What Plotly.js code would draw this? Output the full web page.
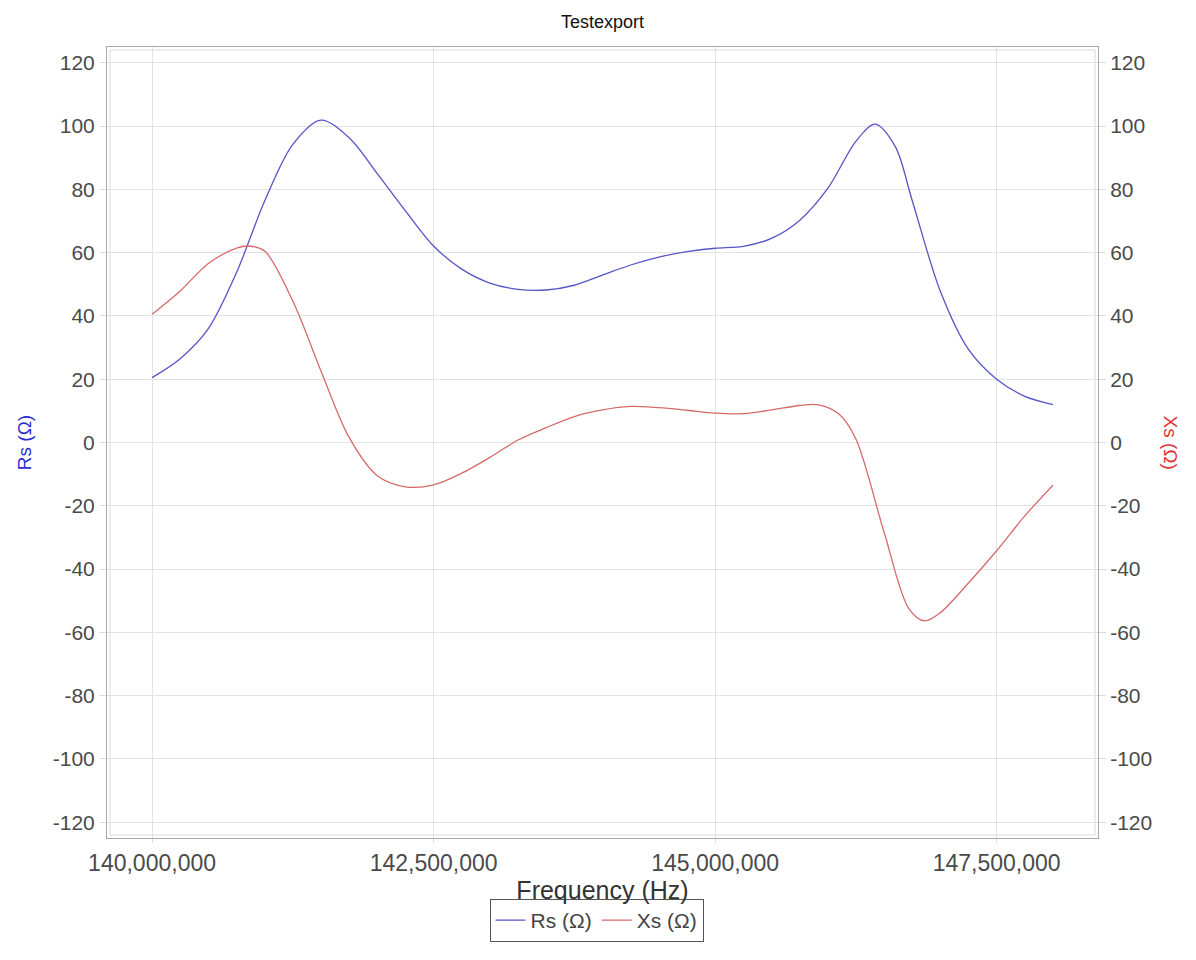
<!DOCTYPE html>
<html>
<head>
<meta charset="utf-8">
<script src="https://cdn.plot.ly/plotly-3.0.1.min.js"></script>
<style>html,body{margin:0;padding:0;background:#fff;}#chart{width:1196px;height:960px;}</style>
</head>
<body>
<div id="chart"></div>
<script>
// Frequency sample points (MHz) and Rs values (Ω)
const rsFreqMHz = [140.0, 140.25, 140.5, 140.75, 141.0, 141.25, 141.5, 141.75, 142.0, 142.25, 142.5, 142.75, 143.0, 143.25, 143.5, 143.75, 144.0, 144.25, 144.5, 144.75, 145.0, 145.25, 145.5, 145.75, 146.0, 146.25, 146.42, 146.6, 146.75, 147.0, 147.25, 147.5, 147.75, 148.0];
const rsValues  = [20.5, 26.5, 36.0, 53.7, 76.3, 94.2, 101.9, 96.3, 85.0, 73.2, 62.1, 54.8, 50.4, 48.4, 48.2, 49.7, 52.9, 56.1, 58.6, 60.3, 61.4, 62.0, 64.5, 70.2, 80.3, 95.2, 100.6, 93.5, 76.5, 47.8, 29.4, 20.0, 14.6, 12.0];

// Frequency sample points (MHz) and Xs values (Ω)
const xsFreqMHz = [140.0, 140.25, 140.5, 140.75, 140.86, 141.0, 141.25, 141.5, 141.75, 142.0, 142.25, 142.5, 142.75, 143.0, 143.25, 143.5, 143.75, 144.0, 144.25, 144.5, 144.75, 145.0, 145.25, 145.5, 145.75, 145.92, 146.1, 146.25, 146.5, 146.72, 146.86, 147.0, 147.25, 147.5, 147.75, 148.0];
const xsValues  = [40.5, 47.9, 56.6, 61.4, 62.1, 60.5, 44.7, 22.6, 1.6, -10.5, -14.0, -13.4, -9.7, -4.7, 0.8, 4.7, 8.2, 10.3, 11.4, 11.0, 10.2, 9.3, 9.1, 10.3, 11.7, 11.9, 9.0, 1.1, -28.3, -52.5, -56.4, -53.8, -44.4, -34.2, -23.2, -13.5];

const xTickVals = [140000000, 142500000, 145000000, 147500000];
const xTickText = ['140,000,000', '142,500,000', '145,000,000', '147,500,000'];
const yTickVals = [-120, -100, -80, -60, -40, -20, 0, 20, 40, 60, 80, 100, 120];
const yTickText = ['-120', '-100', '-80', '-60', '-40', '-20', '0', '20', '40', '60', '80', '100', '120'];

const toHz = a => a.map(v => v * 1e6);

const FONT = '"Liberation Sans", Arial, sans-serif';

const traces = [
  {
    x: toHz(rsFreqMHz), y: rsValues, name: 'Rs (Ω)', type: 'scatter', mode: 'lines',
    line: {color: '#5555c6', width: 1.3, shape: 'spline', smoothing: 0.9},
    yaxis: 'y'
  },
  {
    x: toHz(xsFreqMHz), y: xsValues, name: 'Xs (Ω)', type: 'scatter', mode: 'lines',
    line: {color: '#d66a6a', width: 1.3, shape: 'spline', smoothing: 0.9},
    yaxis: 'y2'
  }
];

const axisCommon = {
  showgrid: true, gridcolor: '#e3e3e3', gridwidth: 1,
  zeroline: false,
  showline: true, linecolor: '#a8a8a8', linewidth: 1,
  ticks: 'outside', ticklen: 7, tickcolor: '#dcdcdc',
  tickfont: {family: FONT, size: 21, color: '#4a4a4a'}
};

const layout = {
  width: 1196, height: 960,
  margin: {l: 107, r: 98, t: 47, b: 122, pad: 0},
  paper_bgcolor: '#ffffff', plot_bgcolor: '#ffffff',
  font: {family: FONT},
  title: {
    text: 'Testexport', font: {family: FONT, size: 18, color: '#111'},
    x: 0.5, xref: 'paper', xanchor: 'center', y: 1 - 22/960, yanchor: 'middle'
  },
  xaxis: Object.assign({}, axisCommon, {
    range: [139600000, 148400000],
    tickvals: xTickVals, ticktext: xTickText,
    mirror: true, ticklen: 4,
    tickfont: {family: FONT, size: 23, color: '#4a4a4a'},
    title: {text: 'Frequency (Hz)', font: {family: FONT, size: 25, color: '#333'}, standoff: 4}
  }),
  yaxis: Object.assign({}, axisCommon, {
    range: [-125, 125], tickvals: yTickVals, ticktext: yTickText,
    title: {text: 'Rs (Ω)', font: {family: FONT, size: 19, color: '#2b2bd0'}, standoff: 16}
  }),
  yaxis2: Object.assign({}, axisCommon, {
    range: [-125, 125], tickvals: yTickVals, ticktext: yTickText,
    overlaying: 'y', side: 'right', showgrid: false
  }),
  showlegend: true,
  legend: {
    orientation: 'h', x: 0.494, xanchor: 'center', y: -(899-838)/791, yanchor: 'top',
    bordercolor: '#555', borderwidth: 1, bgcolor: 'rgba(255,255,255,0)',
    font: {family: FONT, size: 21, color: '#444'},
    itemwidth: 30, tracegroupgap: 0
  },
  annotations: [
    {
      text: 'Xs (Ω)', xref: 'paper', yref: 'paper', x: 1 + (1170-1098)/991, y: 0.5,
      xanchor: 'center', yanchor: 'middle', showarrow: false, textangle: 90,
      font: {family: FONT, size: 19, color: '#dd3333'}
    }
  ],
  shapes: [
    {type: 'rect', xref: 'paper', yref: 'paper', x0: 3/991, x1: 1 - 3/991, y0: 3/791, y1: 1 - 3/791,
     line: {color: '#dadada', width: 1}, fillcolor: 'rgba(0,0,0,0)', layer: 'below'}
  ]
};

Plotly.newPlot('chart', traces, layout, {displayModeBar: false, staticPlot: true});
</script>
</body>
</html>
